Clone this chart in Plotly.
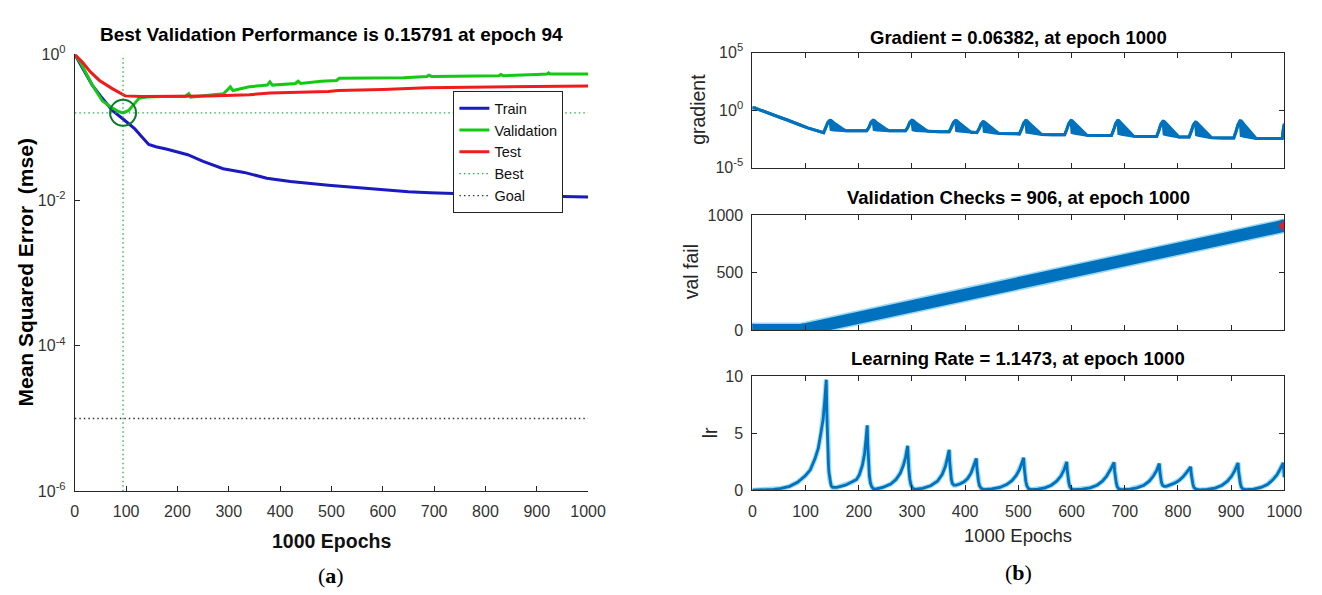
import plotly.graph_objects as go

# ---------------- data ----------------
# (a) performance plot
train_epochs = [0, 10, 21, 34, 50, 73, 94, 117, 130, 144, 158, 180, 220, 250, 289, 330, 374, 420,
                494, 550, 596, 650, 692, 750, 800, 850, 900, 950, 1000]
train_mse = [1.0, 0.75, 0.57, 0.38, 0.27, 0.17, 0.13, 0.095, 0.075, 0.058, 0.054, 0.05, 0.042, 0.034,
             0.027, 0.024, 0.02, 0.018, 0.016, 0.0148, 0.0138, 0.013, 0.0126, 0.0122, 0.0119, 0.0116,
             0.0114, 0.0112, 0.011]

val_epochs = [0, 10, 21, 34, 54, 70, 85, 94, 105, 115, 125, 140, 170, 215, 222, 226, 260, 290, 298,
              303, 308, 340, 375, 380, 385, 430, 435, 440, 480, 510, 515, 560, 600, 640, 686, 690,
              695, 770, 826, 830, 835, 900, 920, 923, 926, 1000]
val_mse = [1.0, 0.8, 0.57, 0.38, 0.23, 0.19, 0.165, 0.158, 0.17, 0.21, 0.25, 0.26, 0.265, 0.265, 0.29,
           0.26, 0.275, 0.29, 0.33, 0.36, 0.32, 0.36, 0.38, 0.42, 0.38, 0.40, 0.43, 0.40, 0.43, 0.44,
           0.47, 0.47, 0.47, 0.48, 0.50, 0.52, 0.50, 0.50, 0.51, 0.53, 0.51, 0.53, 0.54, 0.56, 0.54,
           0.54]

test_epochs = [0, 15, 30, 48, 73, 98, 130, 200, 260, 310, 340, 380, 437, 494, 513, 600, 686, 768,
               826, 921, 1000]
test_mse = [1.0, 0.78, 0.58, 0.44, 0.34, 0.27, 0.265, 0.265, 0.27, 0.275, 0.28, 0.295, 0.30, 0.31,
            0.32, 0.33, 0.35, 0.355, 0.36, 0.37, 0.37]

best_epoch = 94
best_perf = 0.15791
goal_perf = 1e-5

# (b) gradient: upper and lower envelope of the (rapidly oscillating) gradient
grad_epochs = [0, 5, 15, 25, 35, 50, 67, 80, 90, 104, 115, 125, 131,
               134, 138, 142, 146, 148, 153, 160, 168, 176, 200,
               215, 219, 223, 227, 229, 234, 241, 249, 257, 275,
               288, 292, 296, 300, 302, 307, 314, 322, 330, 352,
               370, 374, 378, 382, 384, 389, 396, 404, 412,
               422, 426, 430, 434, 436, 441, 448, 456, 464, 485,
               502, 506, 510, 514, 516, 521, 528, 536, 544, 565,
               587, 591, 595, 599, 601, 606, 613, 621, 629, 655,
               675, 679, 683, 687, 689, 694, 701, 709, 717, 740,
               760, 764, 768, 772, 774, 779, 786, 794, 802, 815,
               821, 825, 829, 833, 835, 840, 847, 855, 863, 885, 904,
               905, 909, 913, 917, 919, 924, 931, 939, 947,
               970, 996, 998, 1000]
grad_upper = [1.6, 1.5, 1.0, 0.7, 0.5, 0.25, 0.13, 0.07, 0.05, 0.028, 0.02, 0.013, 0.011,
              0.011, 0.03, 0.085, 0.13, 0.125, 0.08, 0.045, 0.026, 0.016, 0.016,
              0.016, 0.03, 0.085, 0.13, 0.125, 0.08, 0.045, 0.026, 0.016, 0.016,
              0.016, 0.03, 0.085, 0.13, 0.125, 0.08, 0.045, 0.025, 0.014, 0.013,
              0.013, 0.028, 0.08, 0.125, 0.12, 0.075, 0.04, 0.022, 0.011,
              0.011, 0.022, 0.06, 0.1, 0.095, 0.06, 0.032, 0.017, 0.009, 0.0088,
              0.0085, 0.022, 0.07, 0.125, 0.12, 0.07, 0.035, 0.017, 0.0075, 0.0072,
              0.007, 0.02, 0.07, 0.125, 0.12, 0.07, 0.034, 0.016, 0.0065, 0.0062,
              0.006, 0.018, 0.065, 0.125, 0.12, 0.068, 0.032, 0.014, 0.0052, 0.005,
              0.005, 0.016, 0.06, 0.11, 0.105, 0.06, 0.028, 0.012, 0.0046, 0.0045,
              0.0045, 0.014, 0.05, 0.09, 0.085, 0.05, 0.024, 0.011, 0.004, 0.0038, 0.0037,
              0.0037, 0.013, 0.055, 0.12, 0.115, 0.06, 0.026, 0.011, 0.0034,
              0.0033, 0.0033, 0.02, 0.06382]
grad_lower = [1.6, 1.5, 1.0, 0.7, 0.5, 0.25, 0.13, 0.07, 0.05, 0.028, 0.02, 0.013, 0.011,
              0.011, 0.03, 0.085, 0.13, 0.02, 0.018, 0.017, 0.016, 0.016, 0.016,
              0.016, 0.03, 0.085, 0.13, 0.02, 0.018, 0.017, 0.016, 0.016, 0.016,
              0.016, 0.03, 0.085, 0.13, 0.019, 0.017, 0.016, 0.015, 0.014, 0.013,
              0.013, 0.028, 0.08, 0.125, 0.016, 0.015, 0.014, 0.012, 0.011,
              0.011, 0.022, 0.06, 0.1, 0.014, 0.013, 0.011, 0.01, 0.009, 0.0088,
              0.0085, 0.022, 0.07, 0.125, 0.012, 0.011, 0.0095, 0.0085, 0.0075, 0.0072,
              0.007, 0.02, 0.07, 0.125, 0.011, 0.0095, 0.0085, 0.0075, 0.0065, 0.0062,
              0.006, 0.018, 0.065, 0.125, 0.009, 0.008, 0.007, 0.006, 0.0052, 0.005,
              0.005, 0.016, 0.06, 0.11, 0.008, 0.007, 0.006, 0.0052, 0.0046, 0.0045,
              0.0045, 0.014, 0.05, 0.09, 0.007, 0.006, 0.0052, 0.0046, 0.004, 0.0038, 0.0037,
              0.0037, 0.013, 0.055, 0.12, 0.006, 0.0052, 0.0045, 0.004, 0.0034,
              0.0033, 0.0033, 0.02, 0.06382]

valfail_epochs = [0, 94, 1000]
valfail_values = [0, 0, 906]

lr_epochs = [0, 20, 40, 54, 70, 85, 100, 109, 118, 124, 129, 133, 136, 139,
             140, 141, 142, 143, 144, 146, 148, 151, 159,
             175, 186, 196, 201, 207, 211, 214, 216,
             217, 218, 219, 220, 222, 224, 227, 231,
             245, 260, 270, 278, 284, 288, 292,
             293, 294, 296, 298, 301, 305,
             320, 335, 348, 357, 363, 367, 370,
             371, 372, 374, 376, 379, 383,
             390, 398, 405, 411, 416, 421,
             422, 423, 425, 427, 430, 435,
             450, 465, 478, 488, 496, 502, 507, 510,
             511, 512, 514, 516, 519, 524,
             537, 550, 562, 572, 580, 586, 591,
             592, 593, 595, 597, 600, 605,
             620, 635, 648, 658, 666, 673, 680,
             681, 682, 684, 686, 689, 695,
             710, 723, 736, 746, 754, 760, 765,
             766, 767, 769, 771, 774, 778,
             785, 795, 803, 810, 816, 821, 824,
             825, 826, 828, 830, 834, 840,
             855, 870, 883, 893, 901, 907, 913,
             914, 915, 917, 919, 922, 928,
             942, 956, 968, 978, 986, 992, 998, 1000]
lr_values = [0.01, 0.03, 0.08, 0.17, 0.35, 0.7, 1.3, 1.8, 2.8, 3.7, 4.9, 6.2, 7.8, 9.7,
             6.8, 4.8, 3.3, 2.3, 1.6, 0.8, 0.4, 0.25, 0.25,
             0.45, 0.7, 0.95, 1.35, 2.2, 3.2, 4.4, 5.7,
             4.0, 2.8, 1.9, 1.3, 0.65, 0.35, 0.15, 0.1,
             0.25, 0.55, 0.95, 1.5, 2.2, 2.9, 3.9,
             2.7, 1.9, 1.0, 0.5, 0.2, 0.08,
             0.18, 0.4, 0.8, 1.4, 2.1, 2.8, 3.55,
             2.5, 1.8, 1.0, 0.6, 0.45, 0.45,
             0.55, 0.75, 1.05, 1.5, 2.1, 2.8,
             2.0, 1.4, 0.8, 0.4, 0.18, 0.07,
             0.12, 0.25, 0.5, 0.85, 1.3, 1.8, 2.4, 2.85,
             2.0, 1.4, 0.8, 0.4, 0.15, 0.06,
             0.1, 0.22, 0.45, 0.8, 1.25, 1.8, 2.5,
             1.75, 1.2, 0.65, 0.3, 0.12, 0.05,
             0.1, 0.22, 0.45, 0.8, 1.25, 1.8, 2.45,
             1.7, 1.2, 0.65, 0.3, 0.12, 0.05,
             0.1, 0.22, 0.45, 0.8, 1.25, 1.75, 2.35,
             1.65, 1.15, 0.7, 0.45, 0.35, 0.35,
             0.45, 0.65, 0.9, 1.2, 1.55, 1.85, 2.05,
             1.45, 1.0, 0.55, 0.25, 0.1, 0.04,
             0.08, 0.2, 0.45, 0.8, 1.25, 1.75, 2.4,
             1.7, 1.2, 0.65, 0.3, 0.12, 0.05,
             0.1, 0.25, 0.5, 0.9, 1.35, 1.85, 2.4, 1.1473]

x_ticks = [0, 100, 200, 300, 400, 500, 600, 700, 800, 900, 1000]

# ---------------- styling ----------------
W, H = 1322, 595
SANS = "Liberation Sans, Arial, sans-serif"
SERIF = "Liberation Serif, Times New Roman, serif"
AX = "#262626"
BLUE_R = "#0072BD"
HALO = "#9bd9f3"


def xd(a, b):
    return [a / W, b / W]


def yd(top, bottom):
    return [1 - bottom / H, 1 - top / H]


fig = go.Figure()

# (a) performance
fig.add_trace(go.Scatter(x=train_epochs, y=train_mse, name="Train", mode="lines",
                         line=dict(color="#1a1ac0", width=3), xaxis="x", yaxis="y"))
fig.add_trace(go.Scatter(x=val_epochs, y=val_mse, name="Validation", mode="lines",
                         line=dict(color="#14c814", width=3), xaxis="x", yaxis="y"))
fig.add_trace(go.Scatter(x=test_epochs, y=test_mse, name="Test", mode="lines",
                         line=dict(color="#ee1c1c", width=3), xaxis="x", yaxis="y"))
fig.add_trace(go.Scatter(x=[best_epoch, best_epoch, None, 0, 1000],
                         y=[1e-6, 1.0, None, best_perf, best_perf], name="Best", mode="lines",
                         line=dict(color="#2aa84a", width=1.3, dash="1.5px,3px"), xaxis="x", yaxis="y"))
fig.add_trace(go.Scatter(x=[0, 1000], y=[goal_perf, goal_perf], name="Goal", mode="lines",
                         line=dict(color="#333333", width=1.3, dash="1.5px,3px"), xaxis="x", yaxis="y"))
fig.add_trace(go.Scatter(x=[best_epoch], y=[best_perf], mode="markers", showlegend=False,
                         marker=dict(symbol="circle-open", size=26, color="#0d7a2a",
                                     line=dict(width=2, color="#0d7a2a")), xaxis="x", yaxis="y"))

# (b) gradient (band between lower and upper envelope)
fig.add_trace(go.Scatter(x=grad_epochs, y=grad_lower, mode="lines", showlegend=False,
                         line=dict(color=BLUE_R, width=3), xaxis="x2", yaxis="y2"))
fig.add_trace(go.Scatter(x=grad_epochs, y=grad_upper, mode="lines", showlegend=False,
                         fill="tonexty", fillcolor=BLUE_R,
                         line=dict(color=BLUE_R, width=3), xaxis="x2", yaxis="y2"))
# (b) validation checks
fig.add_trace(go.Scatter(x=valfail_epochs, y=valfail_values, mode="lines", showlegend=False,
                         line=dict(color=HALO, width=15), xaxis="x3", yaxis="y3"))
fig.add_trace(go.Scatter(x=valfail_epochs, y=valfail_values, mode="lines+markers", showlegend=False,
                         line=dict(color=BLUE_R, width=12),
                         marker=dict(size=13, color=BLUE_R), xaxis="x3", yaxis="y3"))
fig.add_trace(go.Scatter(x=[valfail_epochs[-1]], y=[valfail_values[-1]], mode="markers",
                         showlegend=False, marker=dict(symbol="diamond", size=9, color="#e0202a"),
                         xaxis="x3", yaxis="y3"))
# (b) learning rate
fig.add_trace(go.Scatter(x=lr_epochs, y=lr_values, mode="lines", showlegend=False,
                         line=dict(color=HALO, width=5), xaxis="x4", yaxis="y4"))
fig.add_trace(go.Scatter(x=lr_epochs, y=lr_values, mode="lines", showlegend=False,
                         line=dict(color=BLUE_R, width=2.8), xaxis="x4", yaxis="y4"))

tickfont = dict(family=SANS, size=16, color="#333333")
common_x = dict(range=[0, 1000], tickvals=x_ticks, ticks="inside", ticklen=5, tickcolor=AX,
                showline=True, linecolor=AX, linewidth=1, showgrid=False, zeroline=False,
                tickfont=tickfont, ticklabelstandoff=6)
common_y = dict(ticks="inside", ticklen=5, tickcolor=AX, showline=True, linecolor=AX,
                linewidth=1, showgrid=False, zeroline=False, tickfont=tickfont,
                ticklabelstandoff=5)

layout = dict(
    width=W, height=H, margin=dict(l=0, r=0, t=0, b=0),
    paper_bgcolor="white", plot_bgcolor="white",
    showlegend=True,
    legend=dict(x=457 / W, y=1 - 83 / H, xanchor="left", yanchor="top",
                bgcolor="white", bordercolor="#222222", borderwidth=1,
                font=dict(family=SANS, size=14.5, color="#111111"),
                traceorder="normal", tracegroupgap=0, itemwidth=30),
    xaxis=dict(common_x, domain=xd(72, 594), anchor="y", mirror=False),
    yaxis=dict(common_y, domain=yd(45, 497), anchor="x", type="log", range=[-6, 0],
               tickvals=[1e-6, 1e-4, 1e-2, 1],
               ticktext=["10<sup>-6</sup>", "10<sup>-4</sup>", "10<sup>-2</sup>", "10<sup>0</sup>"],
               mirror=False),
    xaxis2=dict(common_x, domain=xd(761, 1302), anchor="y2", mirror="ticks", showticklabels=False),
    yaxis2=dict(common_y, domain=yd(43, 162), anchor="x2", type="log", range=[-5, 5],
                tickvals=[1e-5, 1, 1e5],
                ticktext=["10<sup>-5</sup>", "10<sup>0</sup>", "10<sup>5</sup>"], mirror="ticks"),
    xaxis3=dict(common_x, domain=xd(761, 1302), anchor="y3", mirror="ticks", showticklabels=False),
    yaxis3=dict(common_y, domain=yd(211, 330), anchor="x3", range=[0, 1000],
                tickvals=[0, 500, 1000], mirror="ticks"),
    xaxis4=dict(common_x, domain=xd(761, 1302), anchor="y4", mirror="ticks"),
    yaxis4=dict(common_y, domain=yd(378, 496), anchor="x4", range=[0, 10],
                tickvals=[0, 5, 10], mirror="ticks"),
)
fig.update_layout(**layout)


def note(text, x, y, size, family, bold=False, angle=0, color="#000000"):
    if bold:
        text = "<b>" + text + "</b>"
    fig.add_annotation(text=text, x=x / W, y=1 - y / H, xref="paper", yref="paper",
                       showarrow=False, xanchor="center", yanchor="middle", textangle=angle,
                       font=dict(family=family, size=size, color=color))


note("Best Validation Performance is 0.15791 at epoch 94", 333, 24, 19, SANS, bold=True)
note("Mean Squared Error  (mse)", 22, 271, 21, SANS, bold=True, angle=-90)
note("1000 Epochs", 333, 548, 19.5, SANS, bold=True, color="#111111")
note("(<b>a</b>)", 333, 584, 22, SERIF)

note("Gradient = 0.06382, at epoch 1000", 1031.5, 27, 18.5, SANS, bold=True)
note("Validation Checks = 906, at epoch 1000", 1031.5, 193, 18.5, SANS, bold=True)
note("Learning Rate = 1.1473, at epoch 1000", 1031.5, 360, 18.5, SANS, bold=True)
note("gradient", 705, 102, 19.5, SANS, angle=-90, color=AX)
note("val fail", 699, 270, 19.5, SANS, angle=-90, color=AX)
note("lr", 718, 437, 19.5, SANS, angle=-90, color=AX)
note("1000 Epochs", 1031.5, 543, 18.5, SANS, color=AX)
note("(<b>b</b>)", 1031.5, 581, 22, SERIF)

fig.write_html("out.html", config={"displayModeBar": False},
               post_script="document.body.style.margin='0';document.body.style.overflow='hidden';")
